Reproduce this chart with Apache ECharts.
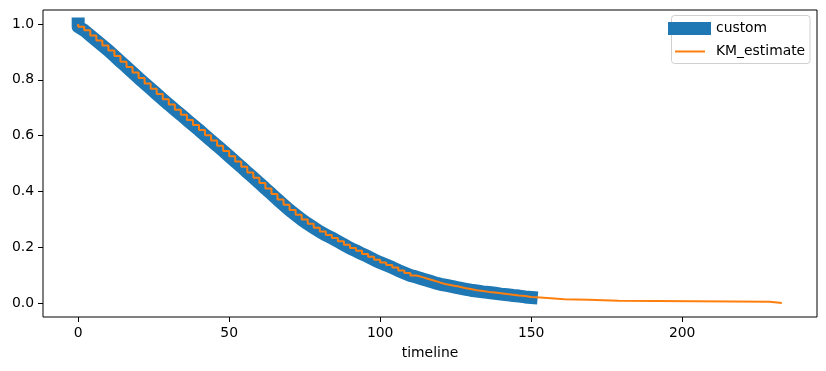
<!DOCTYPE html>
<html>
<head>
<meta charset="utf-8">
<script src="https://cdn.jsdelivr.net/npm/echarts@6/dist/echarts.min.js"></script>
<style>
  html, body { margin: 0; padding: 0; background: #fff; }
  #chart { width: 826px; height: 371px; }
</style>
</head>
<body>
<div id="chart"></div>
<script>
// Kaplan-Meier estimate (timeline, survival)
const kmTimeline = [0, 0, 2, 4, 6, 8, 10, 12, 14, 16, 18, 20, 22, 24, 26, 28, 30,
  32, 34, 36, 38, 40, 42, 44, 46, 48, 50, 52, 54, 56, 58, 60,
  62, 64, 66, 68, 70, 72, 74, 76, 78, 80, 82, 84, 86, 88, 90,
  92, 94, 96, 98, 100, 102, 104, 106, 108, 110, 112, 114, 116, 118, 120,
  122, 124, 126, 128, 130, 132, 134, 136, 138, 140, 142, 144, 146, 148, 150,
  153, 161, 169, 179, 229, 233];
const kmSurvival = [1.0, 0.99, 0.977, 0.959, 0.941, 0.923, 0.905, 0.885, 0.865, 0.846, 0.826, 0.806, 0.787, 0.768, 0.749, 0.730, 0.711,
  0.693, 0.675, 0.656, 0.638, 0.620, 0.601, 0.582, 0.564, 0.545, 0.526, 0.507, 0.488, 0.468, 0.449, 0.430,
  0.410, 0.391, 0.371, 0.352, 0.333, 0.316, 0.299, 0.284, 0.270, 0.256, 0.244, 0.233, 0.221, 0.209, 0.197,
  0.187, 0.176, 0.166, 0.155, 0.145, 0.136, 0.127, 0.117, 0.108, 0.099, 0.093, 0.086, 0.080, 0.073, 0.067,
  0.063, 0.059, 0.054, 0.050, 0.046, 0.043, 0.040, 0.038, 0.035, 0.032, 0.030, 0.027, 0.025, 0.022, 0.020,
  0.014, 0.012, 0.008, 0.005, 0.0, 0.0];
// The "custom" curve ends at this time
const customEnd = 150;
const xTicks = [0, 50, 100, 150, 200];
const yTicks = [0.0, 0.2, 0.4, 0.6, 0.8, 1.0];
const seriesNames = ['custom', 'KM_estimate'];
const xAxisTitle = 'timeline';

const kmData = kmTimeline.map((t, i) => [t, kmSurvival[i]]);
const customData = kmData.filter(d => d[0] <= customEnd);

const FONT = 'DejaVu Sans';
const chart = echarts.init(document.getElementById('chart'), null, { renderer: 'canvas' });
const option = {
  animation: false,
  backgroundColor: '#fff',
  textStyle: { fontFamily: FONT },
  grid: { left: 43, right: 9, top: 10, bottom: 54, show: true, borderColor: '#000', borderWidth: 1, backgroundColor: 'transparent' },
  graphic: [{
    type: 'rect', z: 1,
    shape: { x: 671.5, y: 15.5, width: 138.5, height: 48, r: 3 },
    style: { fill: 'rgba(255,255,255,0.8)', stroke: '#d0d0d0', lineWidth: 1 }
  }],
  legend: {
    z: 10,
    orient: 'vertical',
    left: 668, top: 21.5,
    padding: 0,
    itemWidth: 43, itemHeight: 13, itemGap: 9,
    textStyle: { fontFamily: FONT, fontSize: 13.9, color: '#000' },
    data: [
      { name: seriesNames[0], icon: 'rect', itemStyle: { color: '#1f77b4' } },
      { name: seriesNames[1], icon: 'path://M0 0 M43 13 M7 5.5 L37 5.5 L37 7.5 L7 7.5 Z', itemStyle: { color: '#ff7f0e' } }
    ]
  },
  xAxis: {
    type: 'value',
    min: -11.65, max: 244.65,
    name: xAxisTitle,
    nameLocation: 'middle',
    nameGap: 29,
    nameTextStyle: { fontFamily: FONT, fontSize: 13.9, color: '#000' },
    axisLine: { show: false, onZero: false },
    splitLine: { show: false },
    axisTick: { show: true, inside: false, length: 5, lineStyle: { color: '#000', width: 1 }, customValues: xTicks },
    axisLabel: { margin: 9, fontFamily: FONT, fontSize: 13.9, color: '#000', customValues: xTicks, formatter: v => String(v) }
  },
  yAxis: {
    type: 'value',
    min: -0.05, max: 1.05,
    axisLine: { show: false, onZero: false },
    splitLine: { show: false },
    axisTick: { show: true, inside: false, length: 5, lineStyle: { color: '#000', width: 1 }, customValues: yTicks },
    axisLabel: { margin: 9, fontFamily: FONT, fontSize: 13.9, color: '#000', customValues: yTicks, formatter: v => v.toFixed(1) }
  },
  series: [
    {
      name: seriesNames[0],
      type: 'line',
      data: customData,
      showSymbol: false,
      symbol: 'none',
      color: '#1f77b4',
      lineStyle: { color: '#1f77b4', width: 13, cap: 'square', join: 'round' },
      z: 2
    },
    {
      name: seriesNames[1],
      type: 'line',
      step: 'end',
      data: kmData,
      showSymbol: false,
      symbol: 'none',
      color: '#ff7f0e',
      lineStyle: { color: '#ff7f0e', width: 2 },
      z: 3
    }
  ]
};
chart.setOption(option);
</script>
</body>
</html>
